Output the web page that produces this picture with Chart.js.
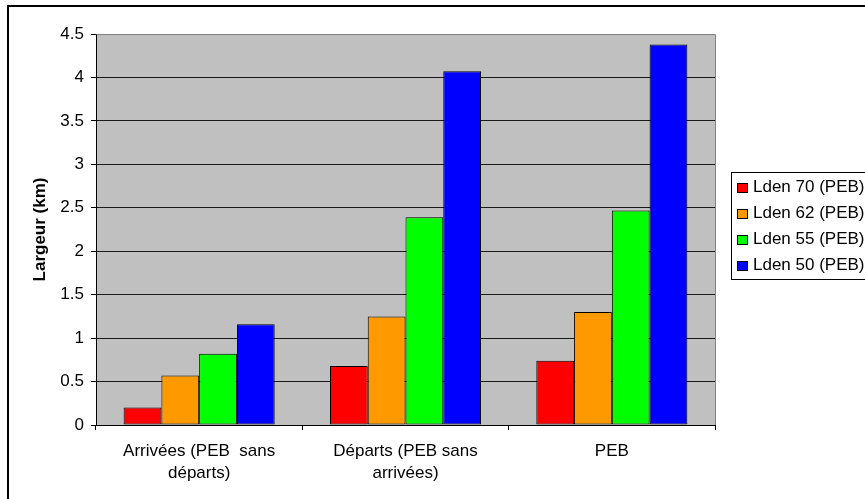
<!DOCTYPE html>
<html>
<head>
<meta charset="utf-8">
<script src="https://cdn.jsdelivr.net/npm/chart.js@4"></script>
<style>
  html, body { margin: 0; padding: 0; background: #fff; }
  #wrap { width: 865px; height: 499px; }
</style>
</head>
<body>
<div id="wrap"><canvas id="myChart" width="865" height="499"></canvas></div>
<script>
// categories (x axis)
const categories = [
    ['Arrivées (PEB  sans', 'départs)'],
    ['Départs (PEB sans', 'arrivées)'],
    'PEB',
];

// series
const seriesNames = ['Lden 70 (PEB)', 'Lden 62 (PEB)', 'Lden 55 (PEB)', 'Lden 50 (PEB)'];
const lden70 = [0.2, 0.68, 0.74];
const lden62 = [0.57, 1.25, 1.30];
const lden55 = [0.82, 2.39, 2.47];
const lden50 = [1.16, 4.07, 4.38];
const seriesColors = ['#FF0000', '#FF9900', '#00FF00', '#0000FF'];

// y axis ticks
const yTickLabels = ['0', '0.5', '1', '1.5', '2', '2.5', '3', '3.5', '4', '4.5'];

const fontFamily = '"Liberation Sans", Arial, sans-serif';

const ctx = document.getElementById('myChart').getContext('2d');

new Chart(ctx, {
    type: 'bar',
    data: {
        labels: categories,
        datasets: [lden70, lden62, lden55, lden50].map((vals, i) => ({
            label: seriesNames[i],
            data: vals,
            backgroundColor: seriesColors[i],
            borderColor: '#000000',
            borderWidth: 1,
            borderSkipped: false,
            categoryPercentage: 0.732,
            barPercentage: 1.0,
        })),
    },
    options: {
        responsive: false,
        animation: false,
        layout: {
            padding: { left: 0, top: 34, right: 150, bottom: 0 },
        },
        plugins: {
            legend: { display: false },
            tooltip: { enabled: false },
        },
        scales: {
            x: {
                offset: true,
                grid: {
                    offset: true,
                    drawOnChartArea: false,
                    tickLength: 5,
                    color: '#000000',
                },
                border: { color: '#000000', width: 1 },
                ticks: {
                    color: '#000000',
                    autoSkip: false,
                    maxRotation: 0,
                    padding: 11,
                    font: { family: fontFamily, size: 17, lineHeight: 1.27 },
                },
                afterFit: (scale) => { scale.height = 74; },
            },
            y: {
                min: 0,
                max: 4.5,
                ticks: {
                    stepSize: 0.5,
                    color: '#000000',
                    padding: 7,
                    font: { family: fontFamily, size: 17 },
                    callback: (value, index) => yTickLabels[index],
                },
                grid: {
                    color: '#1a1a1a',
                    tickColor: '#000000',
                    tickLength: 5,
                    lineWidth: 1,
                },
                border: { color: '#000000', width: 1 },
                title: {
                    display: true,
                    text: 'Largeur (km)',
                    color: '#000000',
                    padding: { top: 30, bottom: 0 },
                    font: { family: fontFamily, size: 17, weight: 'bold' },
                },
                afterFit: (scale) => { scale.width = 96; },
            },
        },
    },
    plugins: [
        {
            id: 'background-color',
            beforeDraw: (chart) => {
                const c = chart.ctx;
                const a = chart.chartArea;
                c.save();
                c.fillStyle = '#ffffff';
                c.fillRect(0, 0, chart.width, chart.height);
                c.fillStyle = '#C0C0C0'; // fond gris de la zone de tracé
                c.fillRect(a.left, a.top, a.right - a.left, a.bottom - a.top);
                c.restore();
            },
            afterDraw: (chart) => {
                const c = chart.ctx;
                const a = chart.chartArea;
                c.save();
                // bordure grise haut / droite de la zone de tracé
                c.strokeStyle = '#808080';
                c.lineWidth = 1;
                c.beginPath();
                c.moveTo(Math.round(a.left) + 0.5, Math.round(a.top) + 0.5);
                c.lineTo(Math.round(a.right) + 0.5, Math.round(a.top) + 0.5);
                c.lineTo(Math.round(a.right) + 0.5, Math.round(a.bottom));
                c.stroke();

                // cadre extérieur
                c.strokeStyle = '#000000';
                c.lineWidth = 2;
                c.strokeRect(8, 6, 900, 560);

                // légende
                const lx = 731, ly = 172, rowH = 26;
                c.lineWidth = 1;
                c.strokeStyle = '#000000';
                c.strokeRect(lx + 0.5, ly + 0.5, 200, 107);
                c.font = '17px ' + fontFamily;
                c.textBaseline = 'middle';
                chart.data.datasets.forEach((ds, i) => {
                    const cy = ly + 15 + i * rowH;
                    c.fillStyle = ds.backgroundColor;
                    c.fillRect(737, cy - 4, 10, 9);
                    c.strokeStyle = '#000000';
                    c.strokeRect(737.5, cy - 3.5, 10, 9);
                    c.fillStyle = '#000000';
                    c.fillText(ds.label, 753, cy);
                });
                c.restore();
            },
        },
    ],
});
</script>
</body>
</html>
